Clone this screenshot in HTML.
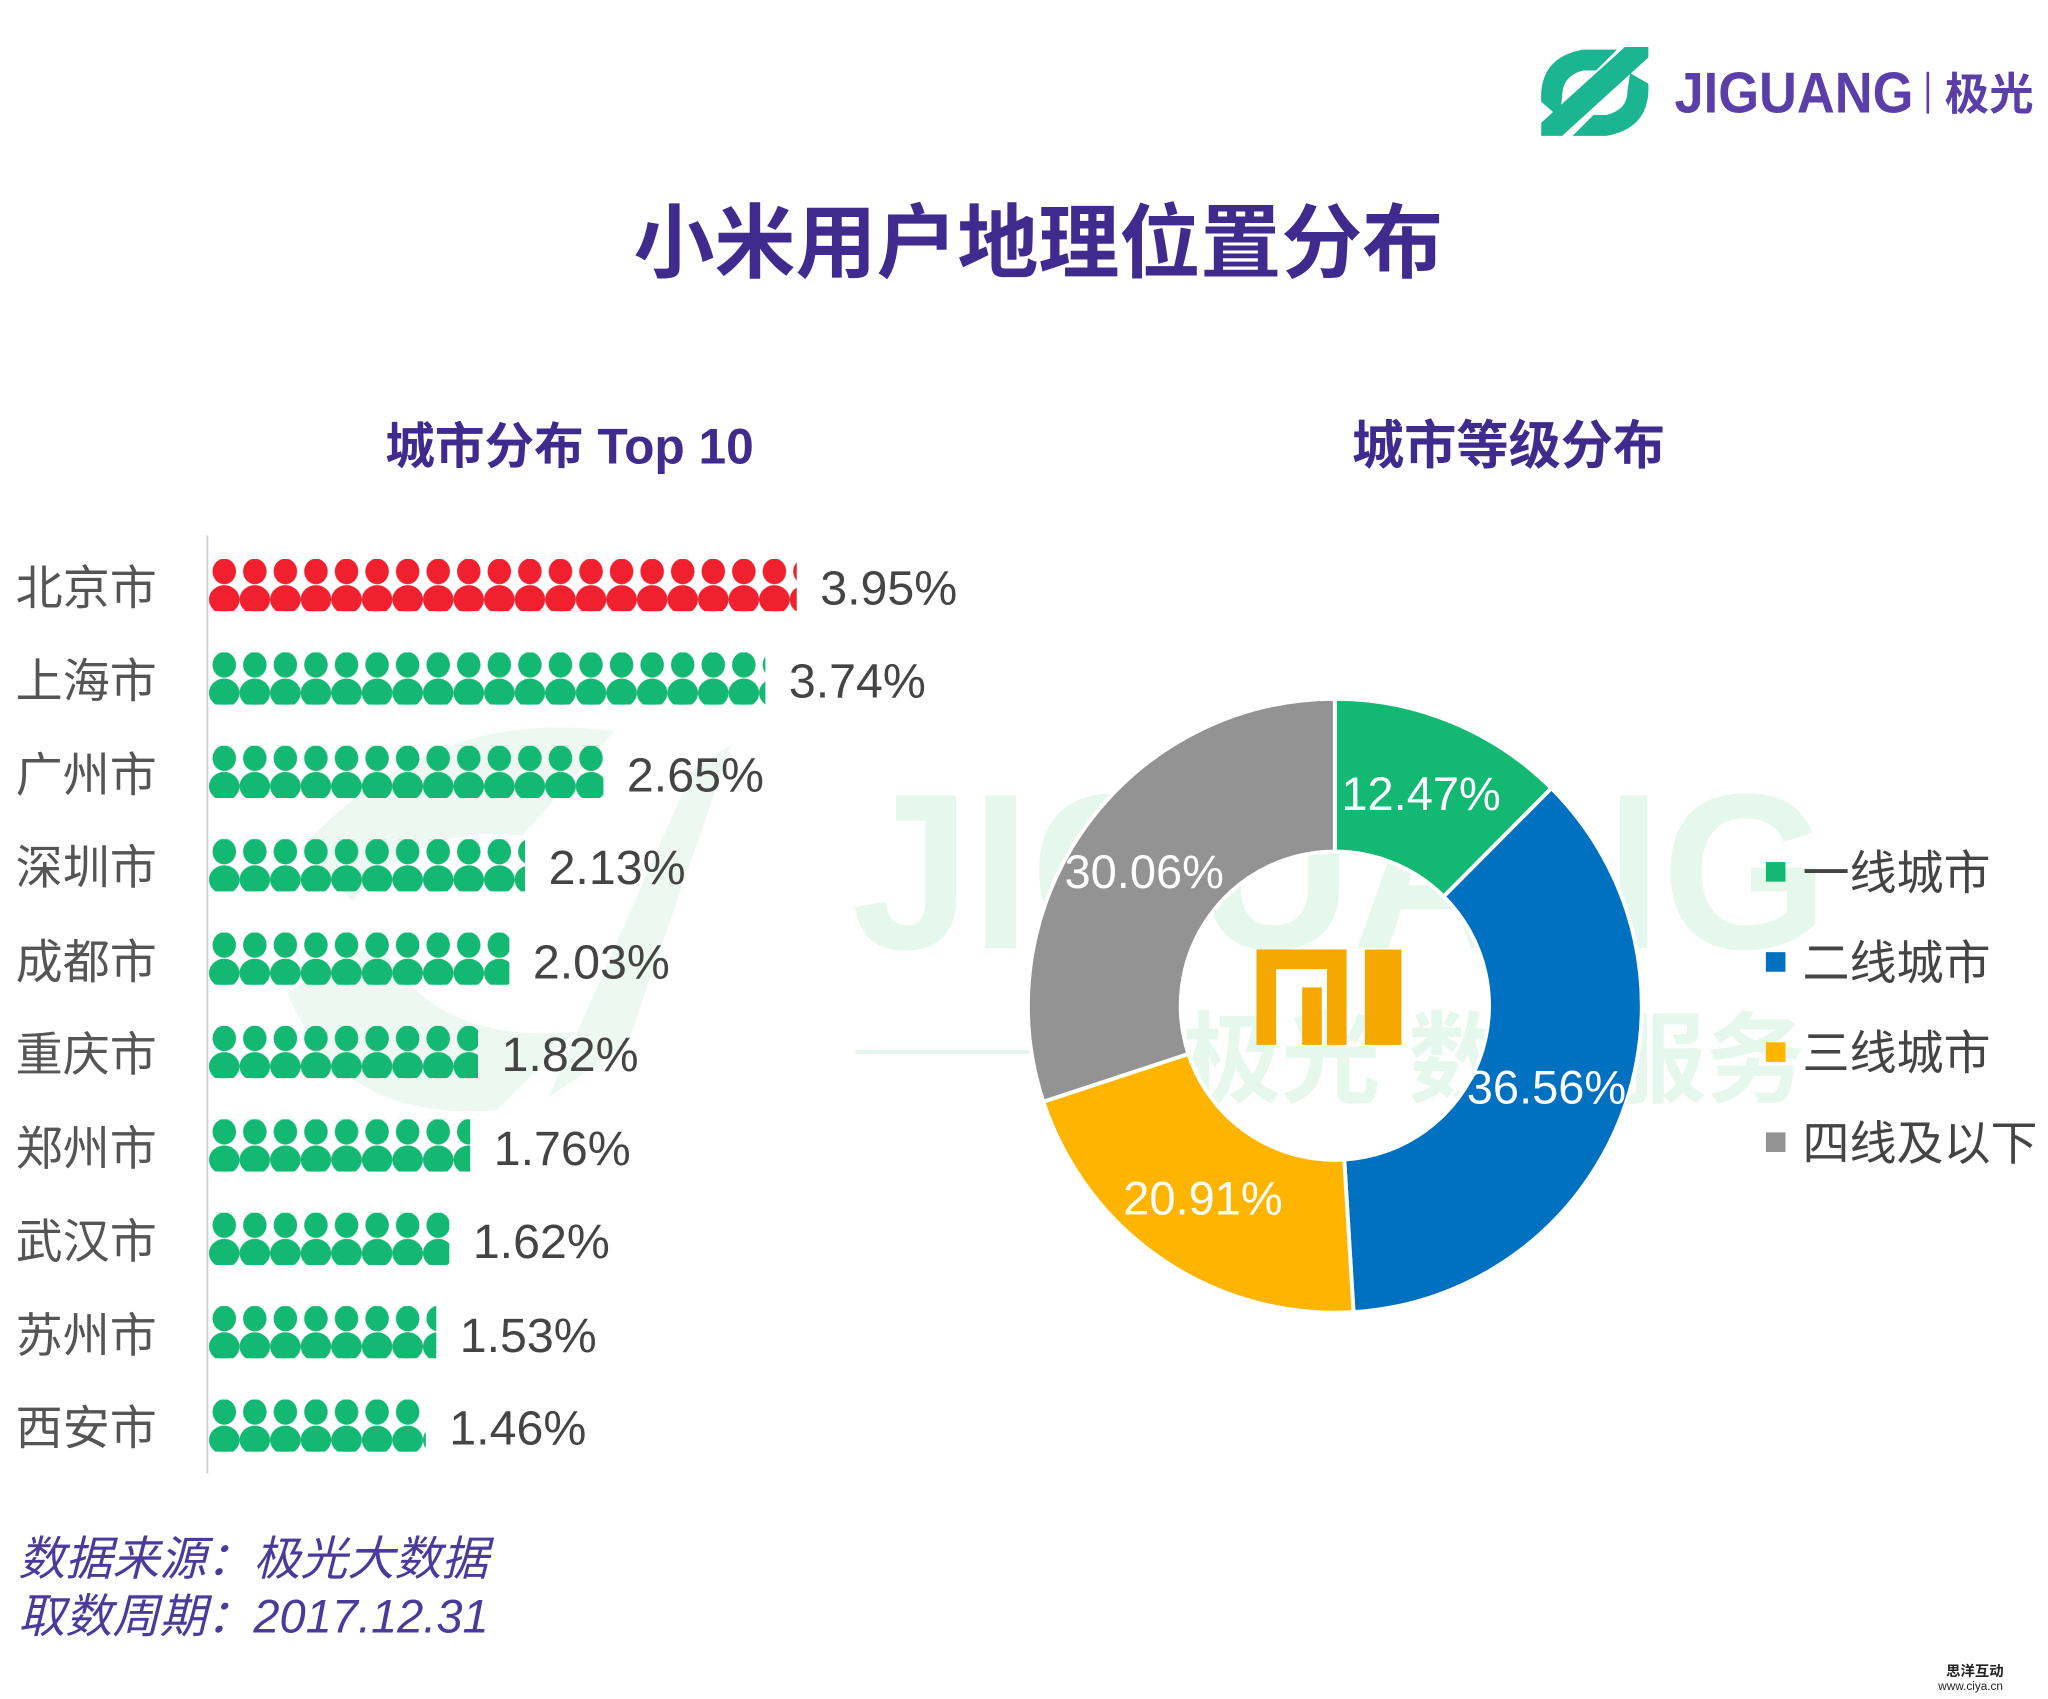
<!DOCTYPE html>
<html><head><meta charset="utf-8"><style>
html,body{margin:0;padding:0;background:#fff;}
svg{display:block;}
text{font-family:"Liberation Sans","Noto Sans CJK SC",sans-serif;}
</style></head><body>
<svg width="2048" height="1699" viewBox="0 0 1568 1300.8" xmlns="http://www.w3.org/2000/svg">
<defs>
<pattern id="pr" x="160" y="0" width="23.4" height="40" patternUnits="userSpaceOnUse">
 <ellipse cx="11.7" cy="9.5" rx="9" ry="9.8" fill="#f0202e"/>
 <ellipse cx="11.7" cy="31" rx="11.7" ry="11" fill="#f0202e"/>
</pattern>
<pattern id="pg" x="160" y="0" width="23.4" height="40" patternUnits="userSpaceOnUse">
 <ellipse cx="11.7" cy="9.5" rx="9" ry="9.8" fill="#13b873"/>
 <ellipse cx="11.7" cy="31" rx="11.7" ry="11" fill="#13b873"/>
</pattern>
</defs>
<rect width="1568" height="1301" fill="#fff"/>

<!-- watermark -->
<g>
 <path d="M230 650 Q330 540 470 560 L400 640 Q320 630 270 690 Z" fill="#edf8f2"/>
 <path d="M530 590 L560 570 L480 800 L420 840 Z" fill="#edf8f2"/>
 <path d="M220 760 Q260 860 380 850 L440 790 Q330 800 290 720 Z" fill="#edf8f2"/>
 <text x="652" y="726" font-size="170" font-weight="bold" fill="#e6f7ee" textLength="748" lengthAdjust="spacingAndGlyphs">JIGUANG</text>
 <rect x="655" y="804" width="250" height="3" fill="#e3f6ec"/>
 <text x="905" y="838" font-size="76" font-weight="bold" fill="#e6f7ee">极光 数据服务</text>
</g>

<!-- top logo -->
<g fill="#1bb592">
 <path d="M1180 78 Q1178 44 1212 38 L1238 38 L1222 54 L1212 54 Q1196 58 1196 74 L1194 90 Z"/>
 <path d="M1180 94 L1244 36 L1262 36 L1262 44 L1196 104 L1180 104 Z"/>
 <path d="M1200 104 L1262 48 L1262 62 L1216 104 Z" opacity="0"/>
 <path d="M1262 64 Q1264 98 1230 104 L1204 104 L1220 88 L1230 88 Q1246 84 1246 70 L1248 56 Z"/>
</g>
<text x="1282" y="86" font-size="44" font-weight="bold" fill="#5a3fa8" textLength="183" lengthAdjust="spacingAndGlyphs">JIGUANG</text>
<rect x="1475" y="55" width="2" height="32" fill="#5a3fa8"/>
<text x="1489" y="84" font-size="34" font-weight="bold" fill="#5a3fa8">极光</text>

<!-- title -->
<text x="795" y="208" font-size="62" font-weight="bold" fill="#3f2a8e" text-anchor="middle">小米用户地理位置分布</text>
<text x="436" y="355" font-size="38" font-weight="bold" fill="#3f2a8e" text-anchor="middle">城市分布 Top 10</text>
<text x="1155" y="355" font-size="40" font-weight="bold" fill="#3f2a8e" text-anchor="middle">城市等级分布</text>

<rect x="158" y="410" width="1.5" height="718" fill="#d0d0d0"/>

<g font-size="36" fill="#555">
 <text x="12" y="463">北京市</text>
 <text x="12" y="534">上海市</text>
 <text x="12" y="606">广州市</text>
 <text x="12" y="677">深圳市</text>
 <text x="12" y="749">成都市</text>
 <text x="12" y="820">重庆市</text>
 <text x="12" y="892">郑州市</text>
 <text x="12" y="963">武汉市</text>
 <text x="12" y="1035">苏州市</text>
 <text x="12" y="1106">西安市</text>
</g>
<g>
 <g transform="translate(0,428)"><rect x="160" y="0" width="450" height="40" fill="url(#pr)"/></g>
 <g transform="translate(0,499.5)"><rect x="160" y="0" width="426" height="40" fill="url(#pg)"/></g>
 <g transform="translate(0,571)"><rect x="160" y="0" width="302" height="40" fill="url(#pg)"/></g>
 <g transform="translate(0,642.5)"><rect x="160" y="0" width="242" height="40" fill="url(#pg)"/></g>
 <g transform="translate(0,714)"><rect x="160" y="0" width="230" height="40" fill="url(#pg)"/></g>
 <g transform="translate(0,785.5)"><rect x="160" y="0" width="206" height="40" fill="url(#pg)"/></g>
 <g transform="translate(0,857)"><rect x="160" y="0" width="200" height="40" fill="url(#pg)"/></g>
 <g transform="translate(0,928.5)"><rect x="160" y="0" width="184" height="40" fill="url(#pg)"/></g>
 <g transform="translate(0,1000)"><rect x="160" y="0" width="174" height="40" fill="url(#pg)"/></g>
 <g transform="translate(0,1071.5)"><rect x="160" y="0" width="166" height="40" fill="url(#pg)"/></g>
</g>
<g font-size="37" fill="#444">
 <text x="628" y="463">3.95%</text>
 <text x="604" y="534">3.74%</text>
 <text x="480" y="606">2.65%</text>
 <text x="420" y="677">2.13%</text>
 <text x="408" y="749">2.03%</text>
 <text x="384" y="820">1.82%</text>
 <text x="378" y="892">1.76%</text>
 <text x="362" y="963">1.62%</text>
 <text x="352" y="1035">1.53%</text>
 <text x="344" y="1106">1.46%</text>
</g>

<g stroke="#fff" stroke-width="3">
 <path d="M1022 535 A235 235 0 0 1 1187.8 603.5 L1105.3 686.4 A118 118 0 0 0 1022 652 Z" fill="#13b873"/>
 <path d="M1187.8 603.5 A235 235 0 0 1 1036.3 1004.6 L1029.2 887.8 A118 118 0 0 0 1105.3 686.4 Z" fill="#0070c0"/>
 <path d="M1036.3 1004.6 A235 235 0 0 1 798.8 843.5 L909.9 806.9 A118 118 0 0 0 1029.2 887.8 Z" fill="#ffb400"/>
 <path d="M798.8 843.5 A235 235 0 0 1 1022 535 L1022 652 A118 118 0 0 0 909.9 806.9 Z" fill="#939393"/>
</g>
<g font-size="36" fill="#fff">
 <text x="1027" y="620">12.47%</text>
 <text x="1123" y="845">36.56%</text>
 <text x="860" y="930">20.91%</text>
 <text x="815" y="680">30.06%</text>
</g>
<g fill="#f5a800">
 <path d="M962 727 H1031 V800 H1016 V742 H977 V800 H962 Z"/>
 <rect x="997" y="756" width="15" height="44"/>
 <rect x="1045" y="727" width="28" height="73"/>
</g>

<rect x="1352" y="660" width="15" height="15" fill="#13b873"/>
<rect x="1352" y="729" width="15" height="15" fill="#0070c0"/>
<rect x="1352" y="798" width="15" height="15" fill="#ffb400"/>
<rect x="1352" y="867" width="15" height="15" fill="#939393"/>
<g font-size="36" fill="#444">
 <text x="1380" y="681">一线城市</text>
 <text x="1380" y="750">二线城市</text>
 <text x="1380" y="819">三线城市</text>
 <text x="1380" y="888">四线及以下</text>
</g>

<g font-size="36" fill="#4b3a9c" font-style="italic">
 <text x="14" y="1206">数据来源：极光大数据</text>
 <text x="14" y="1250">取数周期：2017.12.31</text>
</g>
<text x="1490" y="1283" font-size="11" fill="#222" font-weight="bold">思洋互动</text>
<text x="1484" y="1294" font-size="9" fill="#222">www.ciya.cn</text>
</svg>
</body></html>
